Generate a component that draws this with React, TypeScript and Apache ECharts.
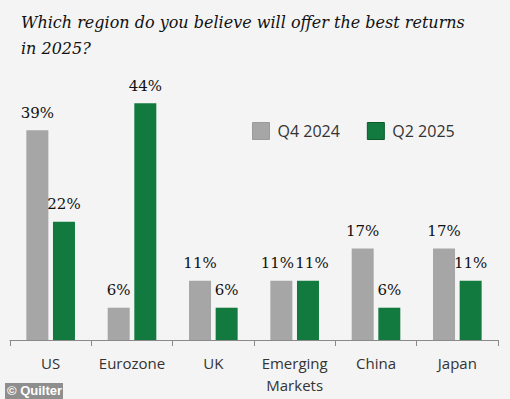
import React, { useEffect, useRef } from "react";
import * as echarts from "echarts";

const categories = ["US", "Eurozone", "UK", "Emerging\nMarkets", "China", "Japan"];
const q4_2024 = [39, 6, 11, 11, 17, 17];
const q2_2025 = [22, 44, 6, 11, 6, 11];
const seriesNames = ["Q4 2024", "Q2 2025"];
const titleText = "Which region do you believe will offer the best returns\nin 2025?";

export default function App() {
  const ref = useRef<HTMLDivElement>(null);
  useEffect(() => {
    document.body.style.margin = "0";
    const chart = echarts.init(ref.current!, null, { renderer: "svg" });
    const labelStyle = {
      show: true,
      position: "top" as const,
      distance: 10,
      fontFamily: "DejaVu Serif",
      fontSize: 15,
      color: "#111",
      formatter: "{c}%",
    };
    const withOffset = (vals: number[], dx: number) =>
      vals.map((v, i) => (i === 3 ? { value: v, label: { offset: [dx, 0] } } : v));
    chart.setOption({
      animation: false,
      backgroundColor: "#f4f4f4",
      title: {
        text: titleText,
        left: 16,
        top: 4,
        textStyle: {
          fontFamily: "DejaVu Serif",
          fontStyle: "italic",
          fontWeight: "normal",
          fontSize: 16,
          lineHeight: 26,
          color: "#111",
        },
      },
      legend: {
        left: 247,
        top: 117,
        itemWidth: 17,
        itemHeight: 17,
        itemGap: 27,
        icon: "rect",
        textStyle: {
          fontFamily: "Open Sans",
          fontSize: 16,
          color: "#333",
          padding: [0, 0, 0, 3],
        },
        data: [
          { name: seriesNames[0], itemStyle: { borderColor: "#9a9a9a", borderWidth: 1 } },
          { name: seriesNames[1], itemStyle: { borderColor: "#0b5a2c", borderWidth: 1 } },
        ],
      },
      grid: { left: 10, right: 12, top: 71, bottom: 59 },
      xAxis: {
        type: "category",
        data: categories,
        axisLine: { lineStyle: { color: "#8a8a8a", width: 1 } },
        axisTick: { show: true, length: 6, lineStyle: { color: "#8a8a8a" } },
        axisLabel: {
          fontFamily: "Open Sans",
          fontSize: 15,
          color: "#333",
          margin: 12,
          lineHeight: 22,
          interval: 0,
        },
      },
      yAxis: {
        type: "value",
        min: 0,
        max: 50,
        show: false,
        splitLine: { show: false },
      },
      graphic: [
        { type: "rect", left: 5, top: 383, shape: { width: 58, height: 16 }, style: { fill: "#8e8e8e" } },
        {
          type: "text",
          left: 7,
          top: 384,
          style: { text: "© Quilter", fill: "#fff", font: "bold 13px 'Liberation Sans'" },
        },
      ],
      series: [
        {
          name: seriesNames[0],
          type: "bar",
          data: withOffset(q4_2024, -4),
          barWidth: 22,
          barGap: "21%",
          itemStyle: { color: "#a6a6a6" },
          label: labelStyle,
        },
        {
          name: seriesNames[1],
          type: "bar",
          data: withOffset(q2_2025, 4),
          barWidth: 22,
          itemStyle: { color: "#137a3f" },
          label: labelStyle,
        },
      ],
    });
    return () => chart.dispose();
  }, []);
  return <div ref={ref} style={{ width: 510, height: 399 }} />;
}
